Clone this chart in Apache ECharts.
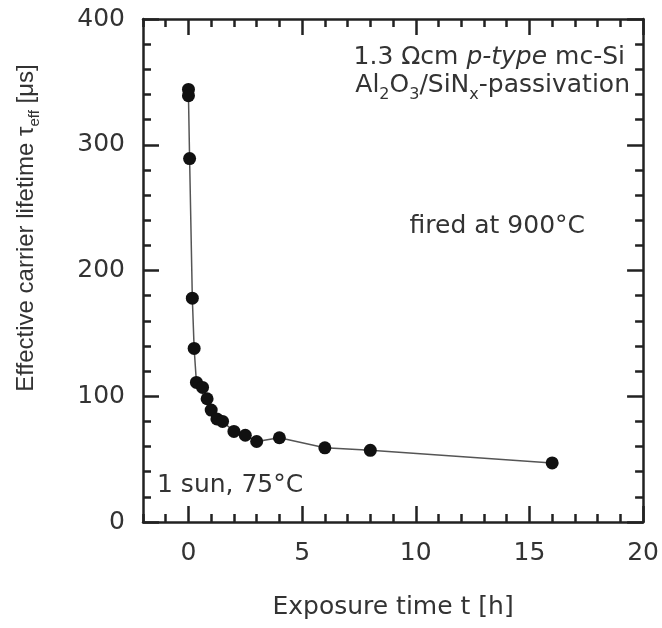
<!DOCTYPE html>
<html>
<head>
<meta charset="utf-8">
<script src="https://cdn.jsdelivr.net/npm/echarts@6/dist/echarts.min.js"></script>
<style>
html,body{margin:0;padding:0;background:#fff;}
#chart{width:662px;height:628px;}
</style>
</head>
<body>
<div id="chart"></div>
<script>
// Data
const exposureHours = [0, 0, 0.05, 0.17, 0.25, 0.35, 0.62, 0.82, 1.0, 1.25, 1.5, 2.0, 2.5, 3.0, 4.0, 6.0, 8.0, 16.0];
const lifetimeUs   = [344, 339, 289, 178, 138, 111, 107, 98, 89, 82, 80, 72, 69, 64, 67, 59, 57, 47];
const xMajorTicks = [0, 5, 10, 15, 20];
const xMinorTicks = [-2, -1, 0, 1, 2, 3, 4, 5, 6, 7, 8, 9, 10, 11, 12, 13, 14, 15, 16, 17, 18, 19, 20];
const yTickValues = [0, 100, 200, 300, 400];

const ink = '#222';
const hFont = 'DejaVu Sans';
const vFont = 'Liberation Sans';
const axisLineStyle = {color: ink, width: 2.5};

function xAxisDef(pos, major, labels) {
  return {
    type: 'value', min: -2, max: 20, interval: 1, position: pos, gridIndex: 0,
    axisLine: {show: !major, onZero: false, lineStyle: axisLineStyle},
    axisTick: {show: true, inside: true, length: major ? 16 : 8,
               customValues: major ? xMajorTicks : xMinorTicks,
               lineStyle: {color: ink, width: 2.5}},
    axisLabel: labels ? {show: true, customValues: xMajorTicks, margin: 19,
               fontFamily: hFont, fontSize: 25, color: '#333'} : {show: false},
    splitLine: {show: false}
  };
}
function yAxisDef(pos, labels) {
  return {
    type: 'value', min: 0, max: 400, interval: 100, position: pos, gridIndex: 0,
    axisLine: {show: true, onZero: false, lineStyle: axisLineStyle},
    axisTick: {show: true, inside: true, length: 16, lineStyle: {color: ink, width: 2.5}},
    minorTick: {show: true, splitNumber: 5, length: 8, lineStyle: {color: ink, width: 2.5}},
    axisLabel: labels ? {show: true, margin: 18, fontFamily: hFont, fontSize: 25, color: '#333',
               customValues: yTickValues} : {show: false},
    splitLine: {show: false}, minorSplitLine: {show: false}
  };
}

const chart = echarts.init(document.getElementById('chart'), null, {renderer: 'canvas'});
const xAxes = [xAxisDef('bottom', true, true), xAxisDef('bottom', false, false), xAxisDef('top', true, false), xAxisDef('top', false, false)];
xAxes[0].name = 'Exposure time t [h]';
xAxes[0].nameLocation = 'middle';
xAxes[0].nameGap = 73;
xAxes[0].nameTextStyle = {fontFamily: hFont, fontSize: 25, color: '#333'};

chart.setOption({
  animation: false,
  backgroundColor: '#fff',
  grid: {left: 143, right: 17, top: 19, bottom: 106, containLabel: false},
  xAxis: xAxes,
  yAxis: [yAxisDef('left', true), yAxisDef('right', false)],
  series: [{
    type: 'line', xAxisIndex: 0, yAxisIndex: 0,
    data: exposureHours.map((t, i) => [t, lifetimeUs[i]]),
    symbol: 'circle', symbolSize: 13,
    itemStyle: {color: '#111'},
    lineStyle: {color: '#555', width: 1.5},
    z: 5
  }],
  graphic: [
    {type: 'text', x: 30, y: 228, rotation: Math.PI / 2,
     style: {text: '{n|Effective carrier lifetime τ}{s|eff}{n| [μs]}', align: 'center', verticalAlign: 'middle',
       fill: '#333', fontFamily: vFont,
       rich: {n: {fontFamily: vFont, fontSize: 24, lineHeight: 24, verticalAlign: 'bottom', padding: [0, 0, 4, 0], fill: '#333'},
              s: {fontFamily: vFont, fontSize: 15, lineHeight: 15, verticalAlign: 'bottom', fill: '#333'}}}},
    {type: 'text', x: 625, y: 57,
     style: {text: '{n|1.3 Ωcm }{i|p-type}{n| mc-Si}', align: 'right', verticalAlign: 'middle', fill: '#333',
       rich: {n: {fontFamily: hFont, fontSize: 25, fill: '#333'},
              i: {fontFamily: hFont, fontSize: 25, fontStyle: 'italic', fill: '#333'}}}},
    {type: 'text', x: 630, y: 90,
     style: {text: '{n|Al}{s|2}{n|O}{s|3}{n|/SiN}{s|x}{n|-passivation}', align: 'right', verticalAlign: 'middle', fill: '#333',
       rich: {n: {fontFamily: hFont, fontSize: 25, lineHeight: 25, verticalAlign: 'bottom', padding: [0, 0, 5, 0], fill: '#333'},
              s: {fontFamily: hFont, fontSize: 16, lineHeight: 16, verticalAlign: 'bottom', fill: '#333'}}}},
    {type: 'text', x: 585, y: 226,
     style: {text: 'fired at 900°C', align: 'right', verticalAlign: 'middle', fill: '#333', fontFamily: hFont, fontSize: 25}},
    {type: 'text', x: 157, y: 485,
     style: {text: '1 sun, 75°C', align: 'left', verticalAlign: 'middle', fill: '#333', fontFamily: hFont, fontSize: 25}}
  ]
});
</script>
</body>
</html>
